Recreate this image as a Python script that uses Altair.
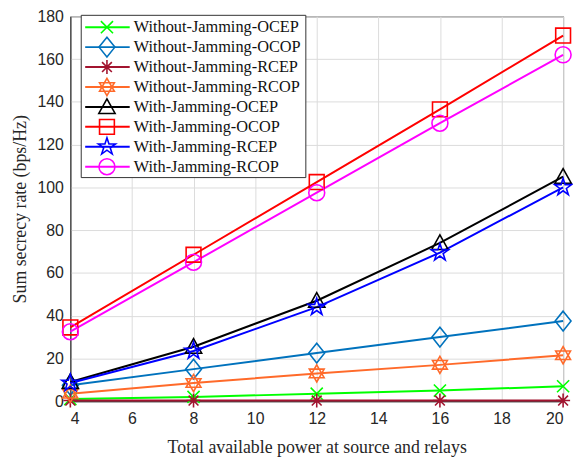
import altair as alt
import pandas as pd
import math

power = [4, 8, 12, 16, 20]
series = [
    "Without-Jamming-OCEP", "Without-Jamming-OCOP", "Without-Jamming-RCEP", "Without-Jamming-RCOP",
    "With-Jamming-OCEP", "With-Jamming-OCOP", "With-Jamming-RCEP", "With-Jamming-RCOP",
]
wo_ocep = [1.0, 2.0, 3.5, 5.0, 7.0]
wo_ocop = [7.5, 15.0, 22.5, 30.0, 37.5]
wo_rcep = [0.3, 0.3, 0.3, 0.3, 0.3]
wo_rcop = [3.5, 8.5, 13.0, 17.0, 21.5]
w_ocep = [9.0, 25.5, 47.0, 74.0, 105.0]
w_ocop = [34.5, 68.5, 102.5, 136.5, 171.0]
w_rcep = [8.5, 23.5, 44.0, 69.5, 100.0]
w_rcop = [32.5, 65.0, 97.5, 130.0, 162.0]
values = [wo_ocep, wo_ocop, wo_rcep, wo_rcop, w_ocep, w_ocop, w_rcep, w_rcop]

colors = ["#00FF00", "#0072BD", "#A2142F", "#FF6A2A", "#000000", "#FF0000", "#0000FF", "#FF00FF"]

def star_path(n=5, r_in=0.382):
    pts = []
    for k in range(2 * n):
        ang = math.radians(-90 + k * 180 / n)
        r = 1 if k % 2 == 0 else r_in
        pts.append(f"{r*math.cos(ang):.3f},{r*math.sin(ang):.3f}")
    return "M" + "L".join(pts) + "Z"

x_mark = "M-1,-1L1,1M-1,1L1,-1"
diamond = "M0,-1L0.8,0L0,1L-0.8,0Z"
asterisk = "M0,-1L0,1M-1,0L1,0M-0.7,-0.7L0.7,0.7M-0.7,0.7L0.7,-0.7"
hexagram = "M0,-1L0.866,0.5L-0.866,0.5Z M0,1L0.866,-0.5L-0.866,-0.5Z"
triangle = "M0,-1L1,0.8L-1,0.8Z"
square = "M-0.8,-0.8L0.8,-0.8L0.8,0.8L-0.8,0.8Z"
pentagram = star_path()
circle = "circle"
shapes = [x_mark, diamond, asterisk, hexagram, triangle, square, pentagram, circle]
sizes = [150, 400, 200, 300, 270, 350, 330, 260]

rows = []
for s, vals in zip(series, values):
    for p, v in zip(power, vals):
        rows.append({"series": s, "power": p, "rate": v})
df = pd.DataFrame(rows)
leg = pd.DataFrame({"series": series})

serif = "Liberation Serif"
sans = "Liberation Sans"
color_scale = alt.Scale(domain=series, range=colors)
shape_scale = alt.Scale(domain=series, range=shapes)
size_scale = alt.Scale(type="ordinal", domain=series, range=sizes)
yscale = alt.Scale(domain=[0, 180], nice=False)

x = alt.X("power:Q", scale=alt.Scale(domain=[4, 20], nice=False),
          axis=alt.Axis(values=list(range(4, 21, 2)), title="Total available power at source and relays",
                        labelPadding=10, titlePadding=12))
y = alt.Y("rate:Q", scale=yscale,
          axis=alt.Axis(values=list(range(0, 181, 20)), title="Sum secrecy rate (bps/Hz)",
                        labelPadding=7, titlePadding=8))

base = alt.Chart(df)
lines = base.mark_line(strokeWidth=2).encode(
    x=x, y=y,
    color=alt.Color("series:N", scale=color_scale, legend=None),
    detail="series:N",
)
points = base.mark_point(filled=False, strokeWidth=1.6, opacity=1).encode(
    x="power:Q", y=alt.Y("rate:Q", scale=yscale, axis=None),
    color=alt.Color("series:N", scale=color_scale, legend=None),
    shape=alt.Shape("series:N", scale=shape_scale, legend=None),
    size=alt.Size("series:N", scale=size_scale, legend=None),
)

box = alt.Chart(pd.DataFrame({"a": [0]})).mark_rect(fill="white", stroke="#333333", strokeWidth=1).encode(
    x=alt.value(11), x2=alt.value(238), y=alt.value(-1), y2=alt.value(163)
)
ly = alt.Y("series:N", scale=alt.Scale(type="point", domain=series, range=[11, 152], padding=0), axis=None)
leg_lines = alt.Chart(leg).mark_rule(strokeWidth=2).encode(
    x=alt.value(15), x2=alt.value(60), y=ly,
    color=alt.Color("series:N", scale=color_scale, legend=None),
)
leg_pts = alt.Chart(leg).mark_point(filled=False, strokeWidth=1.6, opacity=1).encode(
    x=alt.value(37), y=ly,
    color=alt.Color("series:N", scale=color_scale, legend=None),
    shape=alt.Shape("series:N", scale=shape_scale, legend=None),
    size=alt.Size("series:N", scale=size_scale, legend=None),
)
leg_text = alt.Chart(leg).mark_text(align="left", baseline="middle", font=serif, fontSize=16.5, color="#111111").encode(
    x=alt.value(64), y=ly, text="series:N"
)

chart = alt.layer(lines, points, box, leg_lines, leg_pts, leg_text).resolve_scale(
    y="independent"
).properties(
    width=498, height=389,
    autosize=alt.AutoSizeParams(type="none"),
    padding={"left": 63, "top": 6, "right": 10, "bottom": 56},
).configure(
    font=serif
).configure_text(
    font=serif
).configure_view(
    stroke="#222222", strokeWidth=1
).configure_axis(
    labelFont=sans, titleFont=serif, labelFontSize=16, titleFontSize=18,
    titleFontWeight="normal", labelColor="#262626", titleColor="#262626",
    domainColor="#262626", gridColor="#DCDCDC", ticks=False,
)

chart.save("out.html", embed_options={"renderer": "svg", "actions": False})
